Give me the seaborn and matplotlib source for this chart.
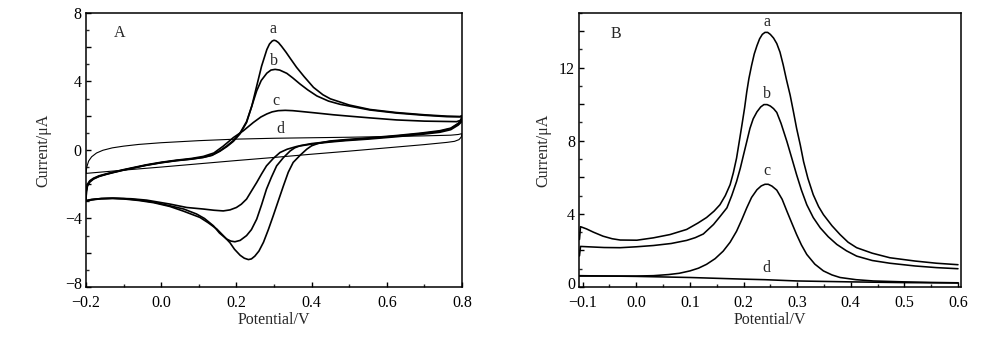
import numpy as np
import pandas as pd
import seaborn as sns
import matplotlib
matplotlib.use("Agg")
import matplotlib.pyplot as plt
from matplotlib.ticker import MultipleLocator, FuncFormatter
from matplotlib.transforms import ScaledTranslation

# ---------------- Panel A: cyclic voltammograms (potential / V, current / uA) ----------------
cv_a_x = [-0.200, -0.199, -0.196, -0.190, -0.180, -0.165, -0.145, -0.127, -0.100, -0.070, -0.040,
          0.000, 0.040, 0.080, 0.112, 0.135, 0.156, 0.175, 0.192, 0.210, 0.227, 0.241, 0.254, 0.267,
          0.281, 0.288, 0.295, 0.300, 0.305, 0.312, 0.320, 0.332, 0.343, 0.360, 0.380, 0.405, 0.430,
          0.450, 0.500, 0.555, 0.626, 0.700, 0.760, 0.795, 0.800,
          0.798, 0.790, 0.770, 0.741, 0.690, 0.626, 0.550, 0.490, 0.449, 0.420, 0.400, 0.387, 0.370,
          0.351, 0.338, 0.325, 0.311, 0.298, 0.285, 0.272, 0.260, 0.249, 0.240, 0.232, 0.221, 0.210,
          0.195, 0.183, 0.165, 0.148, 0.125, 0.103, 0.060, 0.023, -0.020, -0.060, -0.100, -0.130,
          -0.160, -0.185, -0.200]
cv_a_y = [-2.95, -2.45, -2.10, -1.88, -1.70, -1.55, -1.42, -1.32, -1.18, -1.04, -0.90,
          -0.75, -0.63, -0.54, -0.44, -0.32, -0.08, 0.20, 0.50, 0.95, 1.60, 2.56, 3.73, 4.89,
          5.86, 6.18, 6.35, 6.40, 6.37, 6.26, 6.05, 5.70, 5.35, 4.82, 4.28, 3.65, 3.22,
          2.98, 2.62, 2.36, 2.18, 2.05, 1.97, 1.95, 2.00,
          1.75, 1.55, 1.27, 1.12, 0.98, 0.84, 0.70, 0.60, 0.52, 0.40, 0.24, 0.04, -0.30,
          -0.73, -1.30, -2.10, -3.00, -3.84, -4.65, -5.39, -5.90, -6.20, -6.36, -6.40, -6.32, -6.15,
          -5.80, -5.42, -5.00, -4.62, -4.25, -3.94, -3.58, -3.30, -3.08, -2.95, -2.86, -2.83,
          -2.85, -2.92, -3.00]

cv_b_x = [-0.200, -0.199, -0.196, -0.190, -0.180, -0.165, -0.145, -0.127, -0.100, -0.070, -0.040,
          0.000, 0.040, 0.080, 0.112, 0.135, 0.156, 0.175, 0.192, 0.210, 0.227, 0.241, 0.254, 0.266,
          0.281, 0.292, 0.303, 0.315, 0.334, 0.350, 0.369, 0.390, 0.414, 0.445, 0.476, 0.500, 0.555,
          0.626, 0.700, 0.760, 0.795, 0.800,
          0.798, 0.790, 0.770, 0.741, 0.690, 0.626, 0.550, 0.490, 0.449, 0.400, 0.370, 0.355, 0.343,
          0.325, 0.307, 0.293, 0.280, 0.267, 0.254, 0.240, 0.227, 0.210, 0.196, 0.185, 0.174, 0.155,
          0.139, 0.115, 0.094, 0.060, 0.023, -0.020, -0.060, -0.100, -0.130, -0.160, -0.185, -0.200]
cv_b_y = [-2.90, -2.40, -2.05, -1.84, -1.68, -1.53, -1.41, -1.31, -1.17, -1.03, -0.89,
          -0.74, -0.62, -0.53, -0.43, -0.30, -0.05, 0.24, 0.55, 1.00, 1.65, 2.56, 3.45, 4.05,
          4.48, 4.66, 4.70, 4.66, 4.47, 4.20, 3.85, 3.50, 3.15, 2.85, 2.66, 2.56, 2.33,
          2.15, 2.02, 1.94, 1.93, 1.98,
          1.72, 1.52, 1.24, 1.08, 0.95, 0.81, 0.67, 0.57, 0.49, 0.37, 0.25, 0.12, -0.06,
          -0.45, -0.93, -1.60, -2.29, -3.20, -4.04, -4.65, -5.00, -5.28, -5.36, -5.32, -5.20, -4.85,
          -4.43, -4.00, -3.74, -3.45, -3.26, -3.05, -2.92, -2.84, -2.82, -2.84, -2.90, -2.98]

cv_c_x = [-0.200, -0.199, -0.196, -0.190, -0.180, -0.165, -0.145, -0.127, -0.100, -0.070, -0.040,
          0.000, 0.040, 0.080, 0.112, 0.140, 0.165, 0.192, 0.218, 0.245, 0.265, 0.281, 0.295, 0.311,
          0.330, 0.350, 0.369, 0.410, 0.458, 0.500, 0.555, 0.626, 0.700, 0.786, 0.795, 0.800,
          0.798, 0.790, 0.770, 0.741, 0.690, 0.626, 0.550, 0.490, 0.449, 0.400, 0.360, 0.335, 0.316,
          0.298, 0.280, 0.267, 0.254, 0.240, 0.227, 0.213, 0.200, 0.183, 0.165, 0.140, 0.112, 0.068,
          0.023, -0.039, -0.080, -0.127, -0.160, -0.185, -0.200]
cv_c_y = [-2.85, -2.35, -2.00, -1.80, -1.65, -1.51, -1.39, -1.29, -1.15, -1.01, -0.87,
          -0.72, -0.60, -0.50, -0.38, -0.18, 0.22, 0.72, 1.11, 1.60, 1.92, 2.10, 2.22, 2.29,
          2.31, 2.29, 2.25, 2.16, 2.05, 1.97, 1.87, 1.75, 1.68, 1.65, 1.72, 1.85,
          1.62, 1.45, 1.18, 1.03, 0.90, 0.77, 0.63, 0.54, 0.46, 0.34, 0.20, 0.04, -0.15,
          -0.50, -0.93, -1.40, -1.90, -2.40, -2.87, -3.17, -3.36, -3.50, -3.56, -3.52, -3.45, -3.36,
          -3.16, -2.93, -2.85, -2.82, -2.84, -2.89, -2.95]

cv_d_x = [-0.200, -0.198, -0.193, -0.185, -0.172, -0.155, -0.130, -0.100, -0.060, 0.000, 0.050,
          0.100, 0.200, 0.300, 0.400, 0.500, 0.600, 0.700, 0.770, 0.790, 0.800,
          0.798, 0.792, 0.780, 0.760, 0.700, 0.600, 0.500, 0.400, 0.300, 0.200, 0.100, 0.000,
          -0.100, -0.200]
cv_d_y = [-1.37, -1.00, -0.65, -0.40, -0.18, -0.02, 0.12, 0.22, 0.32, 0.42, 0.48,
          0.54, 0.63, 0.68, 0.71, 0.74, 0.78, 0.82, 0.86, 0.90, 0.95,
          0.75, 0.60, 0.50, 0.44, 0.31, 0.12, -0.07, -0.25, -0.44, -0.62, -0.81, -1.00,
          -1.18, -1.37]

# ---------------- Panel B: differential pulse voltammograms ----------------
dpv_a_x = [-0.106, -0.104, -0.093, -0.080, -0.062, -0.045, -0.030, 0.001, 0.032, 0.063, 0.094,
           0.115, 0.131, 0.145, 0.156, 0.166, 0.175, 0.181, 0.187, 0.192, 0.197, 0.202, 0.206, 0.210,
           0.215, 0.220, 0.225, 0.230, 0.235, 0.240, 0.245, 0.250, 0.256, 0.262, 0.268, 0.274, 0.280,
           0.287, 0.293, 0.299, 0.306, 0.312, 0.320, 0.330, 0.340, 0.349, 0.365, 0.380, 0.395, 0.411,
           0.440, 0.473, 0.520, 0.560, 0.600]
dpv_a_y = [2.60, 3.30, 3.18, 3.00, 2.78, 2.64, 2.57, 2.56, 2.69, 2.87, 3.15,
           3.50, 3.80, 4.15, 4.50, 5.00, 5.60, 6.25, 7.05, 7.95, 8.86, 9.80, 10.67, 11.40,
           12.12, 12.75, 13.20, 13.58, 13.82, 13.93, 13.93, 13.82, 13.62, 13.32, 12.85, 12.15, 11.35,
           10.49, 9.60, 8.68, 7.75, 6.86, 5.95, 5.05, 4.40, 3.96, 3.35, 2.87, 2.45, 2.15,
           1.85, 1.60, 1.42, 1.30, 1.22]

dpv_b_x = [-0.106, -0.104, -0.090, -0.060, -0.030, 0.000, 0.032, 0.065, 0.094, 0.110, 0.125,
           0.144, 0.156, 0.169, 0.178, 0.187, 0.194, 0.200, 0.206, 0.212, 0.218, 0.225, 0.232, 0.238,
           0.244, 0.250, 0.256, 0.262, 0.270, 0.281, 0.290, 0.299, 0.308, 0.318, 0.330, 0.343, 0.358,
           0.374, 0.392, 0.411, 0.440, 0.473, 0.520, 0.560, 0.600]
dpv_b_y = [1.70, 2.22, 2.20, 2.16, 2.15, 2.20, 2.27, 2.38, 2.55, 2.70, 2.90,
           3.42, 3.85, 4.33, 5.00, 5.77, 6.50, 7.23, 7.95, 8.68, 9.20, 9.58, 9.85, 9.98,
           9.98, 9.90, 9.76, 9.55, 8.95, 7.95, 7.05, 6.14, 5.30, 4.50, 3.80, 3.24, 2.75,
           2.33, 1.98, 1.69, 1.45, 1.30, 1.15, 1.06, 1.00]

dpv_c_x = [-0.106, -0.050, 0.000, 0.032, 0.060, 0.080, 0.100, 0.116, 0.131, 0.147, 0.162,
           0.175, 0.187, 0.197, 0.206, 0.215, 0.225, 0.233, 0.240, 0.246, 0.253, 0.262, 0.272, 0.281,
           0.290, 0.299, 0.308, 0.318, 0.333, 0.349, 0.365, 0.380, 0.410, 0.442, 0.500, 0.550, 0.600]
dpv_c_y = [0.60, 0.60, 0.60, 0.62, 0.68, 0.75, 0.88, 1.03, 1.24, 1.55, 1.96,
           2.45, 3.05, 3.70, 4.33, 4.90, 5.32, 5.53, 5.62, 5.62, 5.52, 5.30, 4.80, 4.14,
           3.50, 2.87, 2.30, 1.78, 1.25, 0.88, 0.66, 0.52, 0.40, 0.33, 0.28, 0.25, 0.23]

dpv_d_x = [-0.106, 0.000, 0.100, 0.200, 0.240, 0.300, 0.400, 0.500, 0.600]
dpv_d_y = [0.62, 0.58, 0.52, 0.43, 0.40, 0.33, 0.28, 0.24, 0.22]

curve_labels = ["a", "b", "c", "d"]

# ---------------- styling ----------------
sns.set_style("ticks")
plt.rcParams["font.family"] = ["Liberation Serif", "DejaVu Serif"]
plt.rcParams["axes.unicode_minus"] = True
FS = 11.5

fig = plt.figure(figsize=(10.0, 3.44), dpi=100)
axA = fig.add_axes([0.086, 0.1657, 0.376, 0.797])
axB = fig.add_axes([0.5793, 0.1657, 0.3817, 0.797])


def fmt_num(decimals, every=None):
    def f(v, pos):
        if every is not None and abs(round(v / every) * every - v) > 1e-6:
            return ""
        s = f"{v:.{decimals}f}"
        if s.startswith("-"):
            if float(s) == 0:
                s = s[1:]
            else:
                s = "\u2212" + s[1:]
        return s
    return FuncFormatter(f)


def draw(ax, series, lws):
    for (xs, ys), lw in zip(series, lws):
        df = pd.DataFrame({"x": xs, "y": ys})
        sns.lineplot(data=df, x="x", y="y", sort=False, estimator=None,
                     color="black", lw=lw, ax=ax)


draw(axA, [(cv_a_x, cv_a_y), (cv_b_x, cv_b_y), (cv_c_x, cv_c_y), (cv_d_x, cv_d_y)],
     [1.2, 1.2, 1.2, 0.8])
draw(axB, [(dpv_a_x, dpv_a_y), (dpv_b_x, dpv_b_y), (dpv_c_x, dpv_c_y), (dpv_d_x, dpv_d_y)],
     [1.15, 1.15, 1.15, 1.15])

axA.set_xlim(-0.2, 0.8)
axA.set_ylim(-8, 8)
axB.set_xlim(-0.1063, 0.6056)
axB.set_ylim(0, 15)

axA.xaxis.set_major_locator(MultipleLocator(0.2))
axA.xaxis.set_minor_locator(MultipleLocator(0.1))
axA.xaxis.set_major_formatter(fmt_num(1))
axA.yaxis.set_major_locator(MultipleLocator(2))
axA.yaxis.set_minor_locator(MultipleLocator(1))
axA.yaxis.set_major_formatter(fmt_num(0, every=4))

axB.xaxis.set_major_locator(MultipleLocator(0.1))
axB.xaxis.set_minor_locator(MultipleLocator(0.05))
axB.xaxis.set_major_formatter(fmt_num(1))
axB.yaxis.set_major_locator(MultipleLocator(2))
axB.yaxis.set_minor_locator(MultipleLocator(1))
axB.yaxis.set_major_formatter(fmt_num(0, every=4))

for ax in (axA, axB):
    for s in ax.spines.values():
        s.set_visible(True)
        s.set_linewidth(1.1)
        s.set_color("black")
    ax.tick_params(which="major", direction="in", length=3.6, width=1.0,
                   labelsize=FS, colors="black")
    ax.tick_params(which="minor", direction="in", length=2.3, width=1.0)
    ax.tick_params(axis="x", which="major", pad=5.5)
    ax.tick_params(axis="y", which="major", pad=3)
    ax.tick_params(top=False, right=False, which="both")
    ax.set_xlabel("Potential/V", fontsize=FS)
    ax.set_ylabel("Current/\u03bcA", fontsize=FS)

axA.xaxis.set_label_coords(0.5, -0.09)
axB.xaxis.set_label_coords(0.5, -0.09)
axA.yaxis.set_label_coords(-0.092, 0.5)
axB.yaxis.set_label_coords(-0.074, 0.5)

# panel and curve labels
axA.text(-0.11, 6.84, "A", fontsize=FS, ha="center", va="center")
for lab, (x, y) in zip(curve_labels, [(0.298, 7.03), (0.300, 5.18), (0.305, 2.86), (0.316, 1.20)]):
    axA.text(x, y, lab, fontsize=FS, ha="center", va="center")

axB.text(-0.038, 13.85, "B", fontsize=FS, ha="center", va="center")
for lab, (x, y) in zip(curve_labels, [(0.243, 14.52), (0.243, 10.58), (0.243, 6.32), (0.243, 1.02)]):
    axB.text(x, y, lab, fontsize=FS, ha="center", va="center")

# raise the lowest y tick label slightly (as in the reference) so it clears the x tick labels
fig.canvas.draw()
raise_px = ScaledTranslation(0, 4 / 100, fig.dpi_scale_trans)
for ax in (axA, axB):
    ymin = ax.get_ylim()[0]
    for tick in ax.yaxis.get_major_ticks():
        if abs(tick.get_loc() - ymin) < 1e-6:
            tick.label1.set_transform(tick.label1.get_transform() + raise_px)

fig.savefig("out.png", dpi=100)
